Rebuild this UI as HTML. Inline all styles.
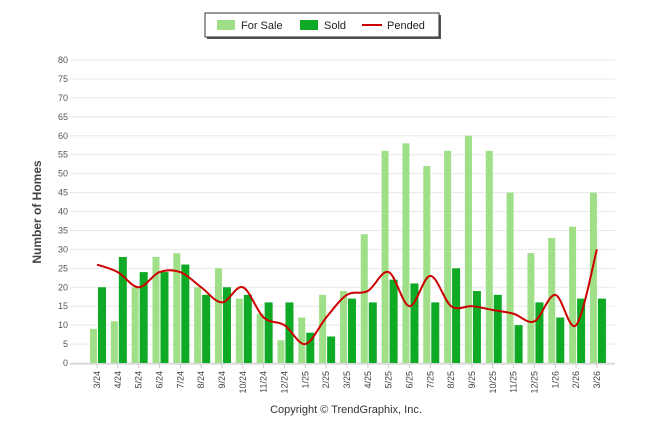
<!DOCTYPE html>
<html><head><meta charset="utf-8"><style>
body{margin:0;background:#fff;font-family:"Liberation Sans",sans-serif}
svg text{font-family:"Liberation Sans",sans-serif}
</style></head><body>
<svg id="c" width="646" height="434"></svg>
<script>
const categories=["3/24","4/24","5/24","6/24","7/24","8/24","9/24","10/24","11/24","12/24","1/25","2/25","3/25","4/25","5/25","6/25","7/25","8/25","9/25","10/25","11/25","12/25","1/26","2/26","3/26"];
const forSale=[9,11,20,28,29,20,25,17,13,6,12,18,19,34,56,58,52,56,60,56,45,29,33,36,45];
const sold=[20,28,24,24,26,18,20,18,16,16,8,7,17,16,22,21,16,25,19,18,10,16,12,17,17];
const pended=[26,24,20,24,24,20,16,20,12,10,5,12,18,19,24,15,23,15,15,14,13,11,18,10,30];
const yTicks=[0,5,10,15,20,25,30,35,40,45,50,55,60,65,70,75,80];
const NS="http://www.w3.org/2000/svg";
const svg=document.getElementById('c');
function mk(t,a,p){const e=document.createElementNS(NS,t);for(const k in a)e.setAttribute(k,a[k]);(p||svg).appendChild(e);return e;}
const y=v=>363-v*(303/80);
const x=i=>97+i*20.83;
yTicks.forEach(t=>{
 const g=mk('line',{x1:70,x2:615,y1:y(t),y2:y(t),stroke:'#e8e8e8','stroke-width':1});
 
 
 const l=mk('text',{x:68,y:y(t)+3,'text-anchor':'end','font-size':9,fill:'#555'});
 l.textContent=t;
 
 
});
mk('line',{x1:70,x2:615,y1:364,y2:364,stroke:'#ccc'});
categories.forEach((c,i)=>{
 const b1=mk('rect',{x:x(i)-7,y:y(forSale[i]),width:7,height:363-y(forSale[i]),fill:'#9fdf88'});
 
 
 const b2=mk('rect',{x:x(i)+1,y:y(sold[i]),width:8,height:363-y(sold[i]),fill:'#0eaa25'});
 
 
 mk('line',{x1:x(i),x2:x(i),y1:364,y2:368,stroke:'#ccc'});
 const t=mk('text',{transform:`translate(${x(i)+3},371) rotate(-90)`,'text-anchor':'end','font-size':9,fill:'#444'});
 t.textContent=c;
 
 
});
let d='';const P=pended.map((v,i)=>[x(i),y(v)]);
P.forEach((p,i)=>{
 if(i===0){d+=`M${p[0]},${p[1]}`;return;}
 const p0=P[i-2]||P[i-1],p1=P[i-1],p2=p,p3=P[i+1]||p;
 const c1=[p1[0]+(p2[0]-p0[0])/6,p1[1]+(p2[1]-p0[1])/6],c2=[p2[0]-(p3[0]-p1[0])/6,p2[1]-(p3[1]-p1[1])/6];
 d+=`C${c1[0]},${c1[1]} ${c2[0]},${c2[1]} ${p2[0]},${p2[1]}`;
});
const ln=mk('path',{d:d,fill:'none',stroke:'#cc0000','stroke-width':2});


const yt=mk('text',{transform:'translate(41,212) rotate(-90)','text-anchor':'middle','font-size':12,'font-weight':'bold',fill:'#444'});
yt.textContent='Number of Homes';


const cp=mk('text',{x:346,y:413,'text-anchor':'middle','font-size':11,fill:'#333'});
cp.textContent='Copyright © TrendGraphix, Inc.';


const lg=mk('g',{});


mk('rect',{x:207,y:15,width:234,height:24,fill:'#555'},lg);
mk('rect',{x:205,y:13,width:234,height:24,fill:'#fff',stroke:'#333'},lg);
[['For Sale','#9fdf88',217],['Sold','#0eaa25',300]].forEach(([n,c,px])=>{
 mk('rect',{x:px,y:20,width:18,height:10,fill:c},lg);
 const t=mk('text',{x:px+24,y:29,'font-size':11,fill:'#222'},lg);t.textContent=n;
 
 
});
mk('line',{x1:362,x2:382,y1:25,y2:25,stroke:'#cc0000','stroke-width':2},lg);
const tp=mk('text',{x:387,y:29,'font-size':11,fill:'#222'},lg);tp.textContent='Pended';


</script>
</body></html>
